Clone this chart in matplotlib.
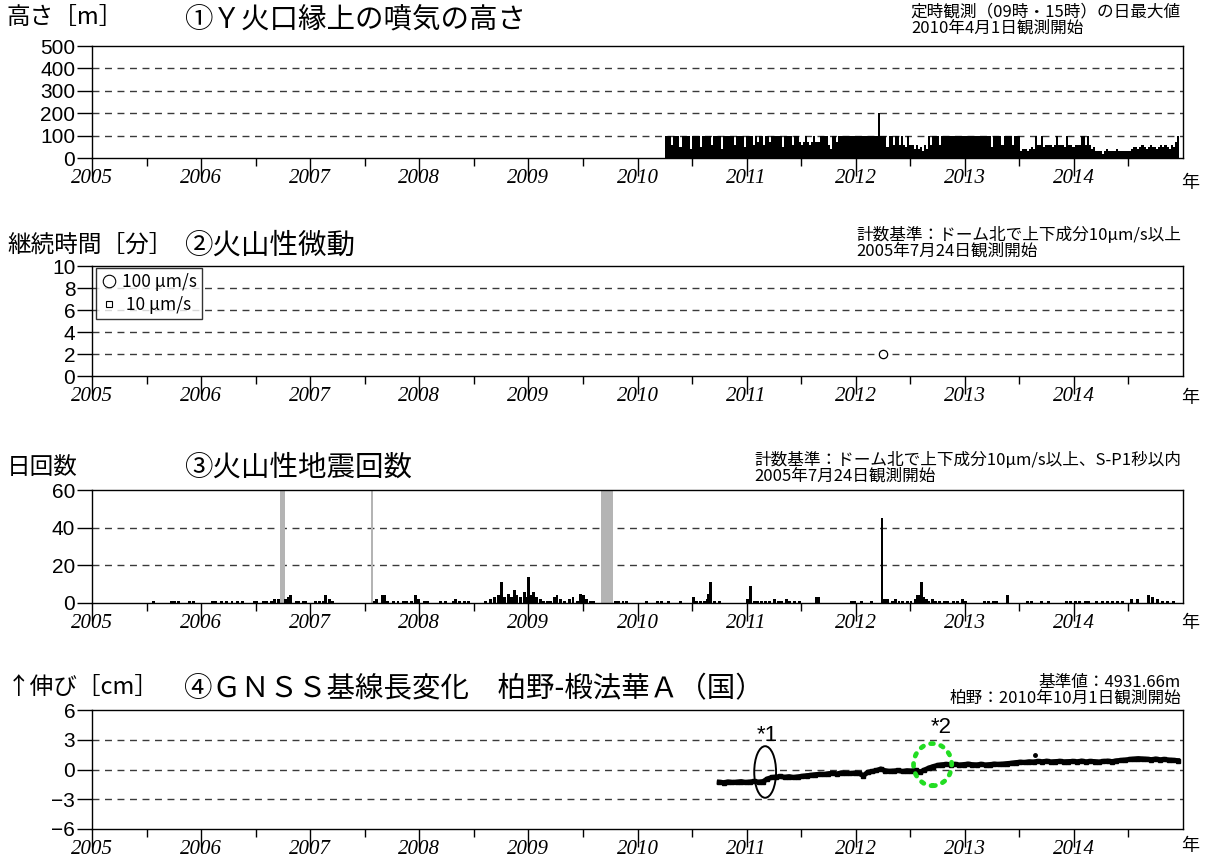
import numpy as np
import matplotlib
matplotlib.use("Agg")
import matplotlib.pyplot as plt
from matplotlib.patches import Ellipse
from matplotlib.lines import Line2D

JP = ['Noto Sans CJK JP', 'DejaVu Sans']
SANS = ['Liberation Sans', 'DejaVu Sans']
SERIF = ['Liberation Serif', 'DejaVu Serif']
plt.rcParams['font.family'] = JP

W, H = 1207, 857
X_START, X_END = 2005.0, 2015.0
YEARS = list(range(2005, 2015))

# (1) plume height above the Y crater rim: weekly maxima of the daily values [m]
plume_start = 2010.25
plume_week_max = [
    100, 100, 100, 60, 100, 100, 100, 50, 100, 100,
    100, 100, 40, 100, 100, 100, 100, 50, 100, 100,
    100, 100, 60, 100, 100, 100, 100, 40, 100, 100,
    100, 100, 100, 60, 100, 100, 100, 100, 50, 100,
    100, 100,
    60, 100, 70, 100, 100, 60, 100, 100, 70, 100,
    100, 100, 100, 100, 50, 100, 100, 100, 100, 60, 100, 100,
    70, 60, 70, 100, 70, 60, 70, 100, 70, 70,
    100, 100, 100, 100, 60, 40, 100, 100, 70, 100,
    100, 100, 100, 100, 100, 100, 100, 100, 100, 100, 100, 100, 100, 100, 100, 100, 100, 100,
    200,
    100, 100, 100, 50, 100, 100, 60, 100, 100, 60, 100,
    60, 50, 100, 60, 60, 40, 60,
    40, 50, 30, 60, 40,
    100, 60, 100, 100, 100, 60, 100,
    100, 100, 100, 100, 100, 100, 100, 100, 100, 100, 100, 100, 100, 100, 100, 100, 100, 100, 100, 100,
    100, 100, 100, 50, 100, 100, 100, 100, 60, 100, 100, 100, 100, 60, 100, 100, 100,
    30, 40, 40, 30, 40, 50, 40,
    100, 60, 60, 100, 50, 60, 60, 60, 50, 60, 100, 60, 60, 60, 50, 100, 60, 60, 50, 60, 60, 60,
    100, 100, 60, 100, 60,
    40, 50, 30, 30, 30, 20, 30, 40, 30, 30, 30, 30, 40, 30, 30, 30, 30, 30, 30,
    40, 50, 50, 40, 50, 60, 50, 40, 50, 60, 50, 50, 40, 50, 60, 50, 60, 50, 40, 60, 50, 70, 100,
]

# (2) volcanic tremor: date and duration [min]
tremor_year = [2012.25]
tremor_duration = [2]

# (3) volcanic earthquakes: date and daily count
quake_year = [
    2005.563, 2005.727, 2005.760, 2005.792, 2005.890, 2005.933, 2006.103, 2006.136,
    2006.185, 2006.234, 2006.283, 2006.332, 2006.381, 2006.486, 2006.512, 2006.568,
    2006.601, 2006.643, 2006.676, 2006.709, 2006.774, 2006.800, 2006.823, 2006.872,
    2006.895, 2006.938, 2006.961, 2007.052, 2007.085, 2007.118, 2007.141, 2007.173,
    2007.206, 2007.590, 2007.612, 2007.658, 2007.681, 2007.707, 2007.766, 2007.805,
    2007.854, 2007.887, 2007.930, 2007.969, 2007.989, 2008.044, 2008.074, 2008.198,
    2008.237, 2008.313, 2008.329, 2008.368, 2008.411, 2008.453, 2008.607, 2008.656,
    2008.689, 2008.722, 2008.755, 2008.781, 2008.820, 2008.843, 2008.869, 2008.892,
    2008.925, 2008.961, 2008.984, 2009.003, 2009.026, 2009.049, 2009.075, 2009.108,
    2009.137, 2009.174, 2009.206, 2009.239, 2009.262, 2009.295, 2009.327, 2009.376,
    2009.409, 2009.448, 2009.474, 2009.501, 2009.534, 2009.566, 2009.599, 2009.800,
    2009.822, 2009.867, 2009.900, 2010.086, 2010.183, 2010.217, 2010.286, 2010.390,
    2010.510, 2010.541, 2010.576, 2010.610, 2010.638, 2010.652, 2010.669, 2010.707,
    2010.748, 2011.007, 2011.038, 2011.069, 2011.103, 2011.138, 2011.172, 2011.214,
    2011.252, 2011.293, 2011.321, 2011.362, 2011.397, 2011.438, 2011.483, 2011.638,
    2011.655, 2011.959, 2011.993, 2012.052, 2012.145, 2012.241, 2012.266, 2012.293,
    2012.334, 2012.362, 2012.397, 2012.431, 2012.472, 2012.507, 2012.552, 2012.569,
    2012.586, 2012.600, 2012.621, 2012.645, 2012.672, 2012.700, 2012.734, 2012.769,
    2012.810, 2012.845, 2012.897, 2012.931, 2012.976, 2013.010, 2013.183, 2013.217,
    2013.259, 2013.293, 2013.393, 2013.579, 2013.614, 2013.700, 2013.766, 2013.931,
    2013.966, 2014.017, 2014.052, 2014.103, 2014.138, 2014.207, 2014.259, 2014.310,
    2014.352, 2014.397, 2014.448, 2014.528, 2014.586, 2014.683, 2014.724, 2014.769,
    2014.810, 2014.862, 2014.914,
]
quake_count = [
    1, 1, 1, 1, 1, 1, 1, 1,
    1, 1, 1, 1, 1, 1, 1, 1,
    1, 1, 2, 2, 2, 3, 4, 1,
    1, 1, 1, 1, 1, 1, 4, 2,
    1, 1, 2, 4, 4, 1, 1, 1,
    1, 1, 1, 4, 2, 1, 1, 1,
    1, 1, 2, 1, 1, 1, 1, 2,
    3, 4, 11, 3, 5, 3, 7, 4,
    3, 6, 3, 14, 4, 6, 3, 2,
    1, 1, 1, 3, 4, 2, 1, 2,
    3, 1, 5, 4, 2, 1, 1, 1,
    1, 1, 1, 1, 1, 1, 1, 1,
    3, 1, 1, 1, 2, 5, 11, 1,
    1, 2, 9, 1, 1, 1, 1, 1,
    2, 1, 1, 2, 1, 1, 1, 3,
    3, 1, 1, 1, 1, 45, 2, 2,
    1, 2, 1, 1, 1, 1, 2, 4,
    4, 11, 3, 2, 1, 2, 1, 1,
    1, 1, 1, 1, 2, 1, 1, 1,
    1, 1, 4, 1, 1, 1, 1, 1,
    1, 1, 1, 1, 1, 1, 1, 1,
    1, 1, 1, 2, 2, 4, 3, 2,
    1, 1, 1,
]
# periods without observation
quake_gaps = [(2006.725, 2006.765), (2007.560, 2007.578), (2009.670, 2009.780)]

# (4) GNSS baseline length change Kashiwano - Todohokke A [cm], every 0.04 yr
gnss_start = 2010.75
gnss_step = 0.04
gnss_change = [
    -1.28, -1.32, -1.25, -1.30, -1.27, -1.22, -1.30, -1.26, -1.20, -1.27, -1.22,
    -0.95, -0.80,
    -0.76, -0.70, -0.78, -0.72, -0.80, -0.74, -0.68,
    -0.62, -0.58, -0.52, -0.48, -0.50, -0.42, -0.38, -0.44, -0.33, -0.38,
    -0.40, -0.35, -0.38, -0.62, -0.28, -0.20,
    -0.10, 0.05, -0.12, -0.18, -0.15, -0.10, -0.20, -0.12, -0.15, -0.08, -0.25, -0.05,
    0.15, 0.30,
    0.42, 0.48, 0.52, 0.47, 0.53, 0.46, 0.50, 0.55, 0.49, 0.47, 0.53, 0.46, 0.50, 0.55, 0.52,
    0.55, 0.60, 0.64, 0.70, 0.74, 0.71, 0.78, 0.76, 0.82, 0.79, 0.84, 0.77, 0.80, 0.83, 0.78,
    0.80, 0.82, 0.79, 0.85, 0.78, 0.82, 0.80, 0.76, 0.82, 0.85, 0.80, 0.88, 0.92,
    0.96, 1.02, 1.06, 1.10, 1.07, 1.04, 1.00, 1.06, 0.99, 1.02, 0.96, 0.93, 0.90,
]
gnss_outlier_year = [2013.64]
gnss_outlier = [1.45]


def fx(px):
    return px / W


def fy(py):
    return 1 - py / H


def make_axes(top, bottom, left=92, right=1183):
    return fig.add_axes([fx(left), fy(bottom), fx(right - left), (bottom - top) / H])


def style(ax, ylim, yticks):
    ax.set_xlim(X_START, X_END)
    ax.set_ylim(*ylim)
    ax.set_yticks(yticks)
    ax.set_yticklabels([("−" + str(-t)) if t < 0 else str(t) for t in yticks],
                       fontfamily=SANS, fontsize=15)
    for y in yticks[1:-1]:
        ax.axhline(y, color='#3a3a3a', lw=1.0, ls=(0, (5, 4)), zorder=0.5)
    ax.set_xticks(YEARS)
    ax.set_xticklabels([str(y) for y in YEARS], fontfamily=SERIF,
                       fontstyle='italic', fontsize=15)
    ax.set_xticks(np.arange(2005.5, 2015.0, 1.0), minor=True)
    ax.tick_params(axis='x', which='major', direction='out', length=13, width=1,
                   pad=-5)
    ax.tick_params(axis='x', which='minor', direction='out', length=6, width=1)
    ax.tick_params(axis='y', direction='out', length=11, width=1, pad=1)
    for s in ax.spines.values():
        s.set_linewidth(1.0)


def header(ylabel, title, y, note, note_y, note_right=False):
    fig.text(fx(7), fy(y), ylabel, fontsize=17, ha='left', va='center')
    fig.text(fx(184), fy(y + 1), title, fontsize=20.5, ha='left', va='center')
    fig.text(fx(1181), fy(note_y), note, fontsize=12, ha='right', va='center',
             multialignment='right' if note_right else 'left', linespacing=0.9)


fig = plt.figure(figsize=(W / 100, H / 100), dpi=100)

# ---- (1) plume height
ax1 = make_axes(46, 158)
week = 7 / 365.25
edges = plume_start + np.arange(len(plume_week_max) + 1) * week
ax1.fill_between(edges, list(plume_week_max) + [plume_week_max[-1]], step='post',
                 color='k', lw=0, zorder=2)
style(ax1, (0, 500), [0, 100, 200, 300, 400, 500])
header("高さ［m］", "①Ｙ火口縁上の噴気の高さ", 18,
       "定時観測（09時・15時）の日最大値\n2010年4月1日観測開始", 20)

# ---- (2) volcanic tremor
ax2 = make_axes(266, 376)
ax2.plot(tremor_year, tremor_duration, 'o', mfc='white', mec='k', ms=6, mew=0.9,
         zorder=3)
style(ax2, (0, 10), [0, 2, 4, 6, 8, 10])
handles = [Line2D([], [], ls='', marker='o', mfc='white', mec='k', ms=9, mew=0.8),
           Line2D([], [], ls='', marker='s', mfc='white', mec='k', ms=4, mew=0.8)]
leg = ax2.legend(handles, ["100 μm/s", " 10 μm/s"], loc='upper left',
                 bbox_to_anchor=(0.004, 0.985), fontsize=12.5, frameon=True,
                 fancybox=False, edgecolor='k', handlelength=0.9,
                 handletextpad=0.3, borderpad=0.3, labelspacing=0.3,
                 borderaxespad=0)
leg.get_frame().set_linewidth(1.0)
header("継続時間［分］", "②火山性微動", 245,
       "計数基準：ドーム北で上下成分10μm/s以上\n2005年7月24日観測開始", 243)

# ---- (3) volcanic earthquakes
ax3 = make_axes(490, 603)
for a, b in quake_gaps:
    ax3.axvspan(a, b, color='#b4b4b4', lw=0, zorder=1)
ax3.bar(quake_year, quake_count, width=0.027, color='k', lw=0, zorder=2)
style(ax3, (0, 60), [0, 20, 40, 60])
header("日回数", "③火山性地震回数", 467,
       "計数基準：ドーム北で上下成分10μm/s以上、S-P1秒以内\n2005年7月24日観測開始", 468)

# ---- (4) GNSS baseline
ax4 = make_axes(710, 829)
gx = gnss_start + np.arange(len(gnss_change)) * gnss_step
ax4.plot(gx, gnss_change, color='k', lw=3.6, marker='s', ms=3,
         solid_joinstyle='round', zorder=3)
ax4.plot(gnss_outlier_year, gnss_outlier, 'o', color='k', ms=2.5, zorder=3)
ax4.add_patch(Ellipse((2011.17, -0.25), 0.20, 5.2, fill=False, ec='k', lw=1.4,
                      zorder=4))
ax4.add_patch(Ellipse((2012.705, 0.49), 0.35, 4.25, fill=False, ec='#22dd22', lw=3.4,
                      ls=(0, (0.6, 1.6)), capstyle='round', zorder=4))
ax4.text(2011.19, 3.4, "*1", fontfamily=SANS, fontsize=16, ha='center', va='center')
ax4.text(2012.78, 4.2, "*2", fontfamily=SANS, fontsize=16, ha='center', va='center')
style(ax4, (-6, 6), [-6, -3, 0, 3, 6])
header("↑伸び［cm］", "④ＧＮＳＳ基線長変化　柏野-椴法華Ａ（国）", 688,
       "基準値：4931.66m\n柏野：2010年10月1日観測開始", 690, note_right=True)

# year unit at the right end of each time axis
for y in (183, 398, 623, 846):
    fig.text(fx(1190), fy(y), "年", fontsize=13, ha='center', va='center')

fig.savefig("out.png", dpi=100)
